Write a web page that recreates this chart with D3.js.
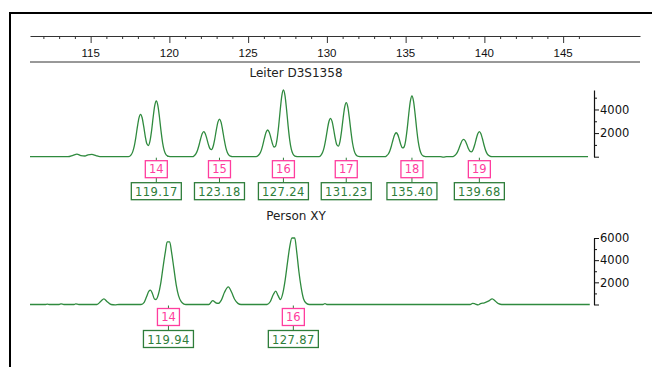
<!DOCTYPE html>
<html>
<head>
<meta charset="utf-8">
<script src="https://cdn.jsdelivr.net/npm/d3@7/dist/d3.min.js"></script>
<style>
  body { margin: 0; background: #fff; }
  svg { display: block; font-family: "DejaVu Sans", sans-serif; }
</style>
</head>
<body>
<svg id="chart" width="652" height="367"></svg>
<script>
// Fragment size ruler (bp)
const sizeTicks = [112,113,114,115,116,117,118,119,120,121,122,123,124,125,126,127,128,129,130,
                   131,132,133,134,135,136,137,138,139,140,141,142,143,144,145,146];
const sizeLabels = [115,120,125,130,135,140,145];

// Allelic ladder D3S1358: [size bp, RFU]
const ladderTrace = [
  [111.15,0],[113.56,0],[113.88,120],[114.13,220],[114.38,100],[114.64,60],[114.83,160],[115.08,200],[115.34,90],[115.59,10],
  [117.40,0],
  [117.57,160],[117.67,410],[117.77,890],[117.87,1640],[117.97,2540],[118.07,3290],[118.17,3590],[118.27,3300],[118.37,2560],
  [118.47,1710],[118.57,1100],[118.67,950],[118.77,1340],[118.87,2210],[118.97,3350],[119.07,4330],[119.17,4720],[119.27,4330],
  [119.37,3340],[119.47,2160],[119.57,1180],[119.67,540],[119.77,210],[119.87,70],[119.97,20],[120.10,0],
  [121.45,0],
  [121.58,90],[121.68,240],[121.78,530],[121.88,970],[121.98,1500],[122.08,1940],[122.18,2120],[122.28,1950],[122.38,1510],
  [122.48,1020],[122.58,670],[122.68,600],[122.78,880],[122.88,1490],[122.98,2270],[123.08,2930],[123.18,3190],[123.28,2930],
  [123.38,2260],[123.48,1460],[123.58,790],[123.68,360],[123.78,140],[123.88,45],[123.98,13],[124.10,0],
  [125.50,0],
  [125.64,100],[125.74,260],[125.84,560],[125.94,1040],[126.04,1600],[126.14,2070],[126.24,2260],[126.34,2080],[126.44,1620],
  [126.54,1120],[126.64,810],[126.74,900],[126.84,1510],[126.94,2620],[127.04,4000],[127.14,5180],[127.24,5650],[127.34,5180],
  [127.44,3990],[127.54,2590],[127.64,1410],[127.74,640],[127.84,250],[127.94,80],[128.04,23],[128.16,0],
  [129.50,0],
  [129.63,140],[129.73,370],[129.83,810],[129.93,1490],[130.03,2300],[130.13,2980],[130.23,3250],[130.33,2990],[130.43,2320],
  [130.53,1550],[130.63,1010],[130.73,890],[130.83,1280],[130.93,2150],[131.03,3250],[131.13,4200],[131.23,4580],[131.33,4200],
  [131.43,3240],[131.53,2100],[131.63,1140],[131.73,520],[131.83,200],[131.93,64],[132.03,18],[132.15,0],
  [133.67,0],
  [133.80,90],[133.90,230],[134.00,510],[134.10,930],[134.20,1440],[134.30,1860],[134.40,2030],[134.50,1870],[134.60,1460],
  [134.70,1000],[134.80,740],[134.90,820],[135.00,1370],[135.10,2380],[135.20,3640],[135.30,4710],[135.40,5140],[135.50,4710],
  [135.60,3630],[135.70,2350],[135.80,1280],[135.90,590],[136.00,230],[136.10,72],[136.20,20],[136.32,0],
  [137.20,0],[137.40,-40],[137.60,0],[137.95,0],
  [138.08,65],[138.18,170],[138.28,370],[138.38,670],[138.48,1040],[138.58,1350],[138.68,1470],[138.78,1350],[138.88,1050],
  [138.98,700],[139.08,460],[139.18,410],[139.28,590],[139.38,990],[139.48,1500],[139.58,1940],[139.68,2120],[139.78,1940],
  [139.88,1500],[139.98,970],[140.08,530],[140.18,240],[140.28,93],[140.38,30],[140.48,8],[140.60,0],
  [146.58,0]
];
const ladderAlleles = ["14","15","16","17","18","19"];
const ladderSizes = [119.17,123.18,127.24,131.23,135.40,139.68];

// Sample "Person XY": [size bp, RFU]
const personTrace = [
  [111.15,0],[112.10,0],[112.25,40],[112.40,0],[113.00,0],[113.12,60],[113.30,0],[113.95,0],[114.05,50],[114.25,0],
  [115.40,0],[115.65,300],[115.84,510],[116.05,250],[116.30,0],[116.55,-40],[116.80,0],
  [118.20,0],[118.40,200],[118.55,700],[118.70,1200],[118.80,1290],[118.92,1000],[119.05,500],[119.15,450],[119.30,900],
  [119.45,1900],[119.60,3400],[119.75,4800],[119.86,5650],[119.94,5650],[120.02,5650],[120.13,4800],[120.28,3300],
  [120.43,1800],[120.58,800],[120.75,250],[120.90,60],[121.05,0],
  [122.50,0],[122.75,350],[122.95,150],[123.10,100],[123.30,400],[123.50,1100],[123.74,1590],[123.95,1100],[124.15,450],
  [124.35,100],[124.55,0],
  [126.20,0],[126.40,250],[126.60,900],[126.75,1200],[126.90,800],[127.05,450],[127.20,1000],[127.35,2200],[127.50,3800],
  [127.65,5300],[127.78,6000],[127.87,6000],[127.96,6000],[128.08,4800],[128.22,3000],[128.37,1500],[128.52,500],
  [128.70,100],[128.90,0],
  [129.75,0],[129.88,80],[130.00,0],
  [139.10,0],[139.25,100],[139.40,60],[139.60,-30],[139.75,80],[140.00,150],[140.25,300],[140.50,500],[140.70,300],
  [140.90,80],[141.10,0],
  [146.69,0]
];
const personAlleles = ["14","16"];
const personSizes = [119.94,127.87];

// Intensity axes (RFU)
const ladderRfuTicks = [0,1000,2000,3000,4000,5000];
const ladderRfuLabels = [2000,4000];
const personRfuTicks = [0,1000,2000,3000,4000,5000,6000];
const personRfuLabels = [2000,4000,6000];

const traceColor = "#2f8a3e";
const alleleColor = "#ff3d9e";
const sizeColor = "#2e7d3a";

const svg = d3.select("#chart");

const x = d3.scaleLinear().domain([111.15, 149.88]).range([30, 640]);

// Outer frame
svg.append("path")
  .attr("d", "M10,367 L10,13 L652,13")
  .attr("fill", "none").attr("stroke", "#000").attr("stroke-width", 2);

// Size ruler
const ruler = svg.append("g").attr("transform", "translate(0,36)");
ruler.call(d3.axisBottom(x).tickValues(sizeTicks).tickSize(3).tickSizeOuter(0).tickFormat(""));
ruler.select(".domain").attr("stroke", "#333");
ruler.selectAll(".tick line").attr("stroke", "#333")
  .filter(d => sizeLabels.includes(d)).attr("y2", 7);
ruler.selectAll(".tick text").remove();
ruler.selectAll(".size-label").data(sizeLabels).enter().append("text")
  .attr("x", d => x(d)).attr("y", 21)
  .attr("text-anchor", "middle").attr("font-size", 11.5).attr("fill", "#111")
  .text(d => d);
svg.append("line").attr("x1", 30).attr("x2", 640).attr("y1", 62).attr("y2", 62)
  .attr("stroke", "#333").attr("stroke-width", 1);

function panel(title, titleY, trace, rfuMax, yTop, yBase, rfuTicks, rfuLabels, alleles, sizes) {
  const y = d3.scaleLinear().domain([0, rfuMax]).range([yBase, yTop]);

  svg.append("text").attr("x", 296).attr("y", titleY)
    .attr("text-anchor", "middle").attr("font-size", 12).attr("fill", "#222")
    .text(title);

  const line = d3.line().x(d => x(d[0])).y(d => y(d[1])).curve(d3.curveMonotoneX);
  svg.append("path").datum(trace)
    .attr("d", line).attr("fill", "none")
    .attr("stroke", traceColor).attr("stroke-width", 1.3).attr("stroke-linejoin", "round");

  const ax = svg.append("g").attr("transform", "translate(594,0)");
  ax.call(d3.axisRight(y).tickValues(rfuTicks).tickSize(5).tickSizeOuter(0).tickPadding(1)
    .tickFormat(d => rfuLabels.includes(d) ? d : ""));
  ax.select(".domain").attr("stroke", "#111").attr("stroke-width", 1.2);
  ax.selectAll(".tick line").attr("stroke", "#111")
    .filter(d => d !== 0 && !rfuLabels.includes(d)).attr("x2", 3);
  ax.selectAll(".tick text").attr("font-size", 11.5).attr("fill", "#111")
    .attr("font-family", "DejaVu Sans, sans-serif");

  const g = svg.append("g").selectAll("g").data(sizes).enter().append("g")
    .attr("transform", d => `translate(${x(d)},${yBase})`);
  g.append("line").attr("x1", 0).attr("x2", 0).attr("y1", 1).attr("y2", 26)
    .attr("stroke", sizeColor).attr("stroke-width", 1);
  g.append("rect").attr("x", -11).attr("y", 4).attr("width", 22).attr("height", 17)
    .attr("fill", "#fff").attr("stroke", alleleColor).attr("stroke-width", 1.3);
  g.append("text").attr("x", 0).attr("y", 16.5).attr("text-anchor", "middle")
    .attr("font-size", 11.5).attr("fill", alleleColor)
    .text((d, i) => alleles[i]);
  g.append("rect").attr("x", -25).attr("y", 26).attr("width", 50).attr("height", 17)
    .attr("fill", "#fff").attr("stroke", sizeColor).attr("stroke-width", 1.3);
  g.append("text").attr("x", 0).attr("y", 39).attr("text-anchor", "middle")
    .attr("font-size", 11.5).attr("fill", sizeColor).attr("letter-spacing", 0.4)
    .text(d => d.toFixed(2));
}

panel("Leiter D3S1358", 77, ladderTrace, 5650, 90, 156.7,
      ladderRfuTicks, ladderRfuLabels, ladderAlleles, ladderSizes);
panel("Person XY", 220, personTrace, 6000, 238, 304.5,
      personRfuTicks, personRfuLabels, personAlleles, personSizes);
</script>
</body>
</html>
